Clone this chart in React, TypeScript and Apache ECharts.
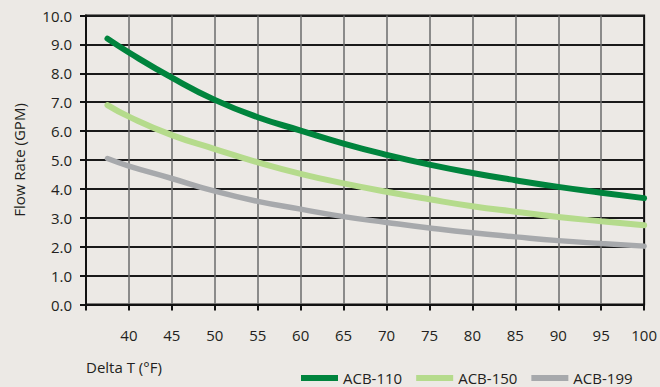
import React, { useEffect, useRef } from "react";
import * as echarts from "echarts";

const deltaT = [37.5, 40, 45, 50, 55, 60, 65, 70, 75, 80, 85, 90, 95, 100];
const acb110 = [9.2, 8.72, 7.85, 7.08, 6.48, 6.02, 5.57, 5.18, 4.84, 4.55, 4.3, 4.07, 3.87, 3.68];
const acb150 = [6.9, 6.5, 5.86, 5.38, 4.92, 4.52, 4.19, 3.9, 3.64, 3.4, 3.21, 3.03, 2.88, 2.74];
const acb199 = [5.05, 4.79, 4.36, 3.92, 3.57, 3.3, 3.04, 2.84, 2.65, 2.48, 2.34, 2.21, 2.11, 2.02];
const seriesNames = ["ACB-110", "ACB-150", "ACB-199"];
const seriesColors = ["#00843D", "#B5DB8C", "#A7A9AC"];
const xAxisTitle = "Delta T (°F)";
const yAxisTitle = "Flow Rate (GPM)";

const FONT = "'Open Sans', sans-serif";
const TEXT = "#231F20";

export default function App() {
  const ref = useRef<HTMLDivElement>(null);
  useEffect(() => {
    document.body.style.margin = "0";
    const chart = echarts.init(ref.current!, null, { renderer: "svg" });
    const allData = [acb110, acb150, acb199];
    chart.setOption({
      animation: false,
      backgroundColor: "#ECE9E5",
      textStyle: { fontFamily: FONT, color: TEXT },
      grid: {
        left: 86,
        right: 14,
        top: 15.5,
        bottom: 82.5,
        show: true,
        borderColor: "#111111",
        borderWidth: 2,
        backgroundColor: "transparent",
      },
      legend: {
        left: 301,
        top: 370,
        padding: 0,
        itemWidth: 37,
        itemHeight: 6,
        itemGap: 14,
        icon: "rect",
        data: seriesNames,
        textStyle: { fontFamily: FONT, fontSize: 15, lineHeight: 16, color: TEXT },
      },
      xAxis: {
        type: "value",
        min: 35,
        max: 100,
        interval: 5,
        axisLine: { show: true, lineStyle: { color: "#111111", width: 2 } },
        axisTick: { show: true, length: 6, lineStyle: { color: "#111111", width: 2 } },
        axisLabel: {
          margin: 23,
          fontSize: 15,
          fontFamily: FONT,
          color: TEXT,
          showMinLabel: true,
          formatter: (v: number) => (v === 35 ? "" : String(v)),
        },
        splitLine: {
          show: true,
          showMinLine: false,
          showMaxLine: false,
          lineStyle: { color: "#6B6B6B", width: 1.5 },
        },
      },
      yAxis: {
        type: "value",
        min: 0,
        max: 10,
        interval: 1,
        name: yAxisTitle,
        nameLocation: "middle",
        nameRotate: 90,
        nameGap: 60,
        nameTextStyle: { fontFamily: FONT, fontSize: 15, color: TEXT },
        axisLine: { show: true, lineStyle: { color: "#111111", width: 2 } },
        axisTick: { show: true, length: 6, lineStyle: { color: "#111111", width: 2 } },
        axisLabel: {
          margin: 14,
          fontSize: 15,
          fontFamily: FONT,
          color: TEXT,
          formatter: (v: number) => v.toFixed(1),
        },
        splitLine: { show: true, lineStyle: { color: "#1A1A1A", width: 2 } },
      },
      graphic: [
        {
          type: "text",
          left: 86,
          top: 359,
          style: { text: xAxisTitle, font: `15px ${FONT}`, fill: TEXT },
        },
      ],
      series: seriesNames.map((name, i) => ({
        name,
        type: "line",
        smooth: true,
        showSymbol: false,
        symbol: "none",
        color: seriesColors[i],
        itemStyle: { color: seriesColors[i] },
        lineStyle: { color: seriesColors[i], width: i === 2 ? 5.5 : 6, cap: "round" },
        data: deltaT.map((x, j) => [x, allData[i][j]]),
        z: 3 + (2 - i),
      })),
    });
    return () => chart.dispose();
  }, []);
  return <div ref={ref} style={{ width: 660, height: 387 }} />;
}
